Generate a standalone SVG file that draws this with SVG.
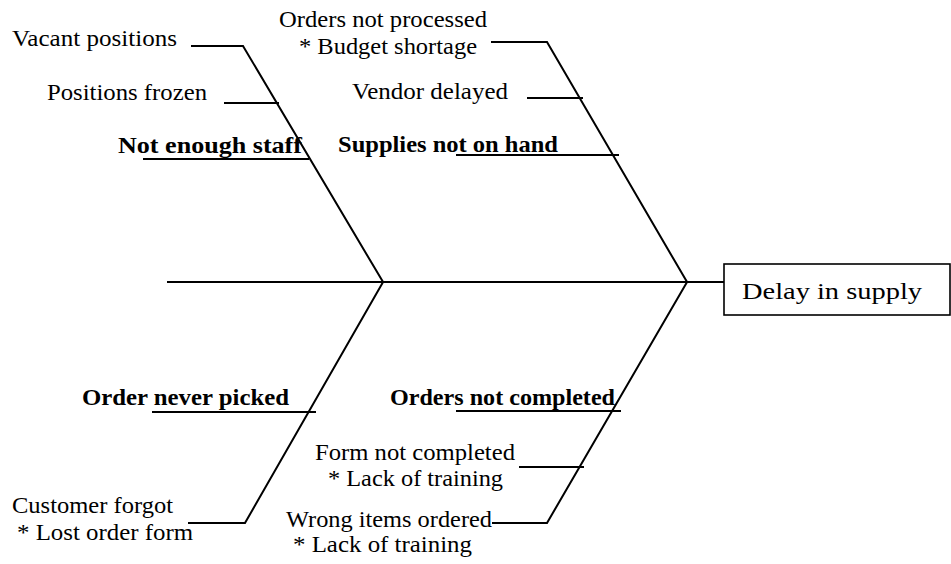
<svg xmlns="http://www.w3.org/2000/svg" width="951" height="564" viewBox="0 0 951 564">
  <style>
    text { font-family: 'Liberation Serif', 'Times New Roman', serif; font-size: 24px; fill: #000; }
    .b { font-weight: bold; }
    .bone { stroke: #000; stroke-width: 2; fill: none; stroke-linecap: square; }
    .effect { fill: #fff; stroke: #000; stroke-width: 1.6; }
  </style>
  <rect width="951" height="564" fill="#fff"/>

  <!-- spine, main bones and cause ticks -->
  <g id="connectors">
    <line class="bone" x1="168" y1="282" x2="724" y2="282"/>
    <!-- upper-left bone -->
    <polyline class="bone" points="192,46 243,46 383,282"/>
    <line class="bone" x1="225" y1="103" x2="278" y2="103"/>
    <line class="bone" x1="144" y1="159" x2="308" y2="159"/>
    <!-- upper-right bone -->
    <polyline class="bone" points="492,42 547,42 687,282"/>
    <line class="bone" x1="528" y1="98" x2="582" y2="98"/>
    <line class="bone" x1="457" y1="155" x2="618" y2="155"/>
    <!-- lower-left bone -->
    <polyline class="bone" points="189,523 245,523 383,282"/>
    <line class="bone" x1="153" y1="412" x2="315" y2="412"/>
    <!-- lower-right bone -->
    <polyline class="bone" points="493,523 547,523 687,282"/>
    <line class="bone" x1="457" y1="411" x2="620" y2="411"/>
    <line class="bone" x1="520" y1="467" x2="583" y2="467"/>
  </g>

  <g id="effect">
    <rect class="effect" x="724" y="264" width="226" height="51"/>
    <text x="742" y="299" font-size="28" textLength="180" lengthAdjust="spacingAndGlyphs">Delay in supply</text>
  </g>

  <g id="staff">
    <text x="12" y="46" textLength="165" lengthAdjust="spacingAndGlyphs">Vacant positions</text>
    <text x="47" y="100" textLength="160" lengthAdjust="spacingAndGlyphs">Positions frozen</text>
    <text class="b" x="118" y="153" textLength="184" lengthAdjust="spacingAndGlyphs">Not enough staff</text>
  </g>

  <g id="supplies">
    <text x="279" y="27" textLength="208" lengthAdjust="spacingAndGlyphs">Orders not processed</text>
    <text x="299" y="54" textLength="178" lengthAdjust="spacingAndGlyphs">* Budget shortage</text>
    <text x="352" y="99" textLength="156" lengthAdjust="spacingAndGlyphs">Vendor delayed</text>
    <text class="b" x="338" y="152" textLength="220" lengthAdjust="spacingAndGlyphs">Supplies not on hand</text>
  </g>

  <g id="picking">
    <text class="b" x="82" y="405" textLength="207" lengthAdjust="spacingAndGlyphs">Order never picked</text>
    <text x="12" y="513" textLength="161" lengthAdjust="spacingAndGlyphs">Customer forgot</text>
    <text x="17" y="540" textLength="176" lengthAdjust="spacingAndGlyphs">* Lost order form</text>
  </g>

  <g id="completion">
    <text class="b" x="390" y="405" textLength="225" lengthAdjust="spacingAndGlyphs">Orders not completed</text>
    <text x="315" y="460" textLength="200" lengthAdjust="spacingAndGlyphs">Form not completed</text>
    <text x="328" y="486" textLength="175" lengthAdjust="spacingAndGlyphs">* Lack of training</text>
    <text x="286" y="527" textLength="206" lengthAdjust="spacingAndGlyphs">Wrong items ordered</text>
    <text x="293" y="552" textLength="179" lengthAdjust="spacingAndGlyphs">* Lack of training</text>
  </g>
</svg>
